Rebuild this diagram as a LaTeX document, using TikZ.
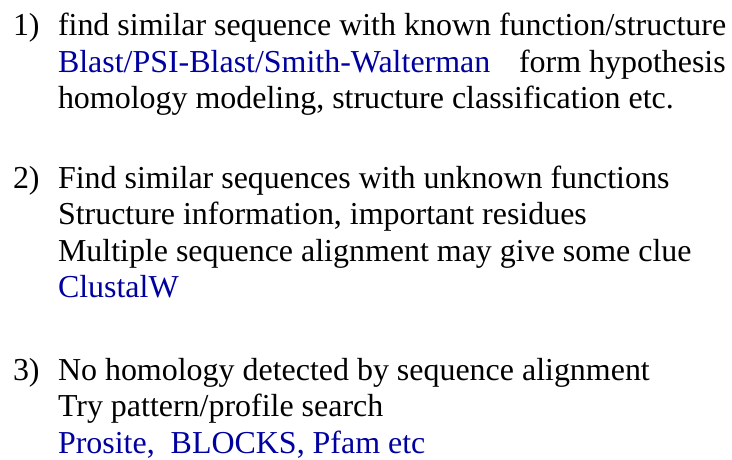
\documentclass[tikz,border=0pt]{standalone}
\usepackage{fontspec}
\setmainfont{Liberation Serif}
\definecolor{toolblue}{RGB}{0,0,160}
\begin{document}
\begin{tikzpicture}[x=1pt,y=-1pt,
  txt/.style={anchor=base west,inner sep=0pt,outer sep=0pt,font=\fontsize{31.95}{36.5}\selectfont,text=black},
  tool/.style={txt,text=toolblue}]
\useasboundingbox (0,0) rectangle (732,459);
\fill[white] (0,0) rectangle (732,459);
% item 1
\node[txt] (n1) at (13,35) {1)};
\node[txt] (l11) at (58,35) {find similar sequence with known function/structure};
\node[tool] (l12) at (58,72) {Blast/PSI-Blast/Smith-Walterman};
\node[txt] (l12b) at (519,72) {form hypothesis};
\node[txt] (l13) at (58,108) {homology modeling, structure classification etc.};
% item 2
\node[txt] (n2) at (13,188) {2)};
\node[txt] (l21) at (58,188) {Find similar sequences with unknown functions};
\node[txt] (l22) at (58,224.5) {Structure information, important residues};
\node[txt] (l23) at (58,261) {Multiple sequence alignment may give some clue};
\node[tool] (l24) at (58,297.5) {ClustalW};
% item 3
\node[txt] (n3) at (13,380) {3)};
\node[txt] (l31) at (58,380) {No homology detected by sequence alignment};
\node[txt] (l32) at (58,416.5) {Try pattern/profile search};
\node[tool] (l33) at (58,453) {Prosite,\ \ BLOCKS, Pfam etc};
\end{tikzpicture}
\end{document}
